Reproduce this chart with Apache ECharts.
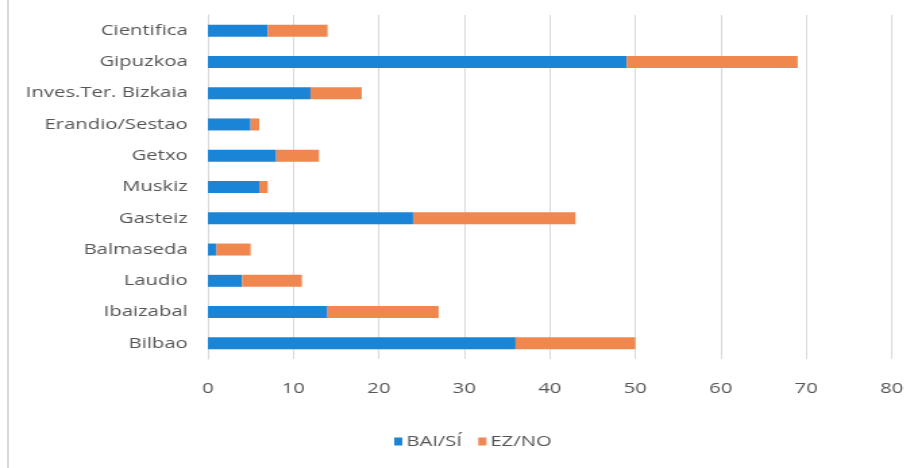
<!DOCTYPE html>
<html>
<head>
<meta charset="utf-8">
<style>
  html, body { margin: 0; padding: 0; background: #ffffff; overflow: hidden; }
  /* The chart is laid out narrower and widened horizontally, giving the wide lettering */
  #chart { width: 680px; height: 468px; transform: scaleX(1.35); transform-origin: 0 0; }
  #frame { position: absolute; left: 7px; top: 0; width: 1.5px; height: 468px; background: #d9d9d9; }
</style>
<script src="https://cdn.jsdelivr.net/npm/echarts@6/dist/echarts.min.js"></script>
</head>
<body>
<div id="chart"></div>
<div id="frame"></div>
<script>
// Categories listed bottom-to-top (category axis on y runs upward)
const categories = ['Bilbao', 'Ibaizabal', 'Laudio', 'Balmaseda', 'Gasteiz', 'Muskiz',
  'Getxo', 'Erandio/Sestao', 'Inves.Ter. Bizkaia', 'Gipuzkoa', 'Cientifica'];
const baiSi = [36, 14, 4, 1, 24, 6, 8, 5, 12, 49, 7];
const ezNo  = [14, 13, 7, 4, 19, 1, 5, 1, 6, 20, 7];
const seriesNames = ['BAI/SÍ', 'EZ/NO'];

const font = '"Open Sans", "Liberation Sans", sans-serif';
const textColor = '#555555';
const chart = echarts.init(document.getElementById('chart'), null, { renderer: 'canvas' });

chart.setOption({
  animation: false,
  textStyle: { fontFamily: font },
  grid: { left: 154, right: 19.5, top: 15, bottom: 109 },
  legend: {
    top: 429,
    left: 287,
    itemWidth: 6,
    itemHeight: 8,
    itemGap: 12,
    icon: 'rect',
    textStyle: { color: textColor, fontSize: 15, fontFamily: font, padding: [0, 0, 0, -2] },
    data: seriesNames
  },
  xAxis: {
    type: 'value',
    min: 0, max: 80, interval: 10,
    axisLine: { show: false },
    axisTick: { show: false },
    splitLine: { lineStyle: { color: '#d9d9d9', width: 1 } },
    axisLabel: { color: textColor, fontSize: 15, margin: 22, fontFamily: font }
  },
  yAxis: {
    type: 'category',
    data: categories,
    axisLine: { lineStyle: { color: '#d9d9d9' } },
    axisTick: { show: false },
    axisLabel: { color: textColor, fontSize: 15, margin: 15, fontFamily: font }
  },
  series: [
    {
      name: seriesNames[0], type: 'bar', stack: 'total',
      data: baiSi, barWidth: 12,
      itemStyle: { color: '#1a85d6' }
    },
    {
      name: seriesNames[1], type: 'bar', stack: 'total',
      data: ezNo, barWidth: 12,
      itemStyle: { color: '#f0874f' }
    }
  ]
});
</script>
</body>
</html>
